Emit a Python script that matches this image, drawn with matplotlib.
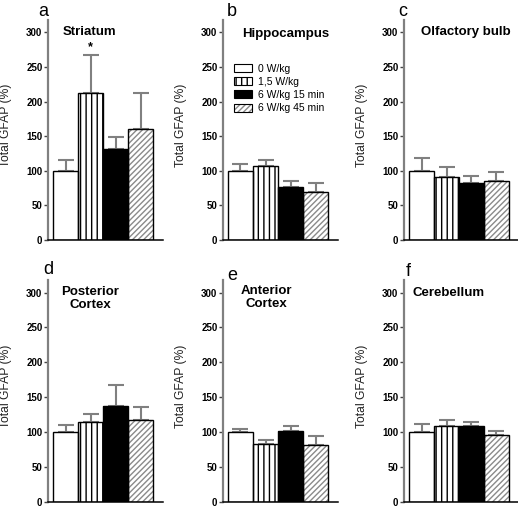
import matplotlib.pyplot as plt
from matplotlib.patches import Patch
from matplotlib.legend_handler import HandlerTuple
import numpy as np

plt.rcParams['font.family'] = ['Liberation Sans', 'DejaVu Sans']
plt.rcParams['hatch.linewidth'] = 1.0

# data (mean and upper error, % of control)
regions = ['Striatum', 'Hippocampus', 'Olfactory bulb',
           'Posterior\nCortex', 'Anterior\nCortex', 'Cerebellum']
letters = ['a', 'b', 'c', 'd', 'e', 'f']
groups = ['0 W/kg', '1,5 W/kg', '6 W/kg 15 min', '6 W/kg 45 min']

striatum = [100, 213, 131, 160]
striatum_err = [16, 55, 18, 53]
hippocampus = [100, 107, 76, 70]
hippocampus_err = [10, 9, 9, 12]
olfactory = [100, 91, 82, 85]
olfactory_err = [18, 14, 10, 14]
post_cortex = [100, 115, 137, 117]
post_cortex_err = [10, 11, 30, 19]
ant_cortex = [100, 83, 102, 82]
ant_cortex_err = [4, 6, 7, 12]
cerebellum = [100, 109, 109, 96]
cerebellum_err = [12, 8, 6, 6]

means = [striatum, hippocampus, olfactory, post_cortex, ant_cortex, cerebellum]
errs = [striatum_err, hippocampus_err, olfactory_err, post_cortex_err,
        ant_cortex_err, cerebellum_err]

yticks = [0, 50, 100, 150, 200, 250, 300]

# face colour, hatch, hatch colour for each group
styles = [('white', None, 'white'),
          ('white', '|||', 'black'),
          ('black', None, 'black'),
          ('white', '//////', '#8a8a8a')]

W, H = 518, 508
lefts = [48, 223, 404]
rows = [(240, 220), (502, 222)]  # bottom (px from top), height
title_pos = [(0.13, 0.945, 'left'), (0.17, 0.935, 'left'), (0.15, 0.945, 'left'),
             (0.37, 0.915, 'center'), (0.38, 0.92, 'center'), (0.07, 0.94, 'left')]
letter_pos = [(43, 12), (232, 12), (403, 12), (48, 270), (232, 275), (408, 272)]

fig = plt.figure(figsize=(W / 100, H / 100), dpi=100)

for k in range(6):
    r, c = divmod(k, 3)
    y0, h = rows[r]
    ax = fig.add_axes([lefts[c] / W, (H - y0) / H, 115 / W, h / H])
    x = np.arange(4)
    for i in range(4):
        fc, hatch, hc = styles[i]
        ax.bar(x[i], means[k][i], width=1.0, color=fc, edgecolor=hc,
               hatch=hatch, linewidth=0, zorder=2)
        ax.bar(x[i], means[k][i], width=1.0, fill=False, edgecolor='black',
               linewidth=1.0, zorder=3)
    ax.errorbar(x, means[k], yerr=[np.zeros(4), errs[k]], fmt='none',
                ecolor='#808080', elinewidth=1.5, capsize=5.5, capthick=1.5,
                zorder=1)

    ax.set_xlim(-0.7, 3.9)
    ax.set_ylim(0, 318)
    ax.set_yticks(yticks)
    ax.set_xticks([])
    ax.tick_params(axis='y', length=3, width=1, pad=1, labelsize=7,
                   color='#444444')
    for lab in ax.get_yticklabels():
        lab.set_fontweight('bold')
    ax.spines['top'].set_visible(False)
    ax.spines['right'].set_visible(False)
    ax.spines['left'].set_color('#808080')
    ax.spines['left'].set_linewidth(1.6)
    ax.spines['bottom'].set_linewidth(1.1)
    ax.set_ylabel('Total GFAP (%)', fontsize=8.7, color='#222222')
    ax.yaxis.set_label_coords(-36 / 115, 0.52)

    tx, ty, ha = title_pos[k]
    ax.text(tx, ty, regions[k], transform=ax.transAxes, ha=ha, va='center',
            fontsize=9.5, fontweight='bold', linespacing=1.1)

    lx, ly = letter_pos[k]
    fig.text(lx / W, 1 - ly / H, letters[k], ha='center', va='center',
             fontsize=13)

    if k == 0:
        ax.text(1, 270, '*', ha='center', va='bottom', fontsize=9,
                fontweight='bold')

    if k == 1:
        handles = []
        for fc, hatch, hc in styles:
            fill = Patch(facecolor=fc, edgecolor=hc, hatch=hatch, linewidth=0)
            edge = Patch(fill=False, edgecolor='black', linewidth=0.8)
            handles.append((fill, edge))
        ax.legend(handles, groups, loc='upper left',
                  bbox_to_anchor=(0.06, 0.82), frameon=False, fontsize=7.5,
                  handlelength=1.7, handleheight=0.8, handletextpad=0.6,
                  labelspacing=0.3, borderaxespad=0,
                  handler_map={tuple: HandlerTuple(ndivide=1, pad=0)})

fig.savefig('out.png', dpi=100)
